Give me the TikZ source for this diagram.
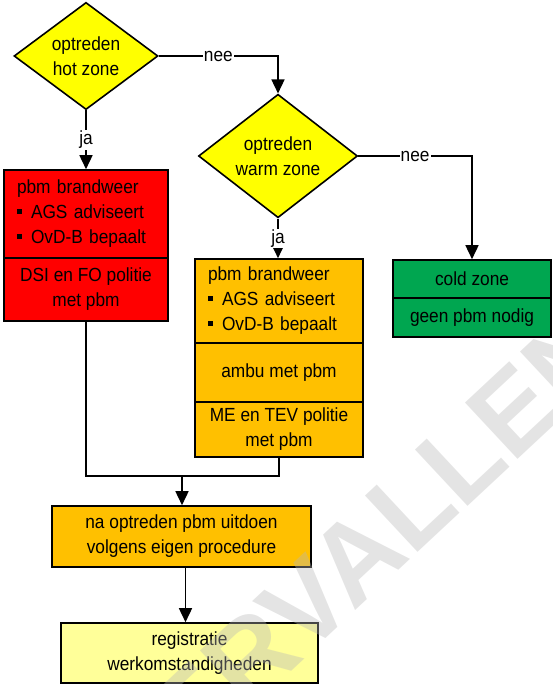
\documentclass[tikz,border=0pt]{standalone}
\usepackage{fontspec}
\setmainfont{Liberation Sans}[FakeStretch=0.91]
\newfontfamily\stampfont{Liberation Sans}
\usetikzlibrary{shapes.geometric,arrows.meta}

\definecolor{zoneyellow}{HTML}{FFFF00}
\definecolor{hotred}{HTML}{FF0000}
\definecolor{warmorange}{HTML}{FFC000}
\definecolor{coldgreen}{HTML}{00A650}
\definecolor{paleyellow}{HTML}{FFFF99}
\definecolor{stampgray}{HTML}{B8B8B8}

\newcommand{\sqbullet}{\rule[5pt]{5pt}{5pt}\hspace{9pt}}

\begin{document}
\begin{tikzpicture}[x=1pt, y=-1pt, line width=1.6pt,
    font=\fontsize{19}{25}\selectfont]
    \tikzset{decision/.style={draw, diamond, fill=zoneyellow, inner sep=0pt, align=center}};
    \tikzset{box/.style={draw, rectangle, inner sep=0pt, align=center}};
    \tikzset{listbox/.style={draw, rectangle, inner ysep=0pt, inner xsep=13pt, align=left}};
    \tikzset{arr/.style={-{Triangle[length=14pt, width=13pt]}}};
    \tikzset{lbl/.style={fill=white, inner sep=1pt}};

    \useasboundingbox (0, 0) rectangle (553, 684);

    % Decisions
    \node [decision, minimum width=144pt, minimum height=105pt] (hot) at (86, 56) {optreden\\hot zone};
    \node [decision, minimum width=159pt, minimum height=115pt] (warm) at (278, 156) {optreden\\warm zone};

    % Hot zone
    \node [listbox, fill=hotred, text width=138pt, minimum height=88pt] (hotppe) at (86, 214)
        {pbm brandweer\\\sqbullet AGS adviseert\\\sqbullet OvD-B bepaalt};
    \node [box, fill=hotred, minimum width=164pt, minimum height=63pt] (hotpol) at (86, 289.5)
        {DSI en FO politie\\met pbm};

    % Warm zone
    \node [listbox, fill=warmorange, text width=142pt, minimum height=84pt] (warmppe) at (279, 301)
        {pbm brandweer\\\sqbullet AGS adviseert\\\sqbullet OvD-B bepaalt};
    \node [box, fill=warmorange, minimum width=168pt, minimum height=59pt] (warmambu) at (279, 372.5)
        {ambu met pbm};
    \node [box, fill=warmorange, minimum width=168pt, minimum height=55pt] (warmpol) at (279, 429.5)
        {ME en TEV politie\\met pbm};

    % Cold zone
    \node [box, fill=coldgreen, minimum width=158pt, minimum height=38pt] (cold) at (472, 279) {cold zone};
    \node [box, fill=coldgreen, minimum width=158pt, minimum height=39pt] (coldppe) at (472, 317.5) {geen pbm nodig};

    % Afterwards
    \node [box, fill=warmorange, minimum width=259pt, minimum height=61pt] (after) at (181.5, 536.5)
        {na optreden pbm uitdoen\\volgens eigen procedure};
    \node [box, fill=paleyellow, minimum width=257pt, minimum height=60pt] (reg) at (189.5, 653)
        {registratie\\werkomstandigheden};

    % Edges
    \draw [arr] (hot.east) -- node [lbl] {nee} (hot.east -| warm.north) -- (warm.north);
    \draw [arr] (hot.south) -- node [lbl] {ja} (hot.south |- hotppe.north);
    \draw [arr] (warm.east) -- node [lbl] {nee} (warm.east -| cold.north) -- (cold.north);
    \draw [arr] (warm.south) -- node [lbl] {ja} (warm.south |- warmppe.north);

    \coordinate (merge) at (182, 476);
    \draw (hotpol.south) |- (merge) -| (warmpol.south);
    \draw [arr] (merge) -- (merge |- after.north);
    \draw [arr] ([xshift=4pt]after.south) -- ([xshift=4pt]after.south |- reg.north);

    % Watermark
    \begin{scope}
        \clip (0, 0) rectangle (553, 684);
        \node [rotate=43, text=stampgray, opacity=0.38, font=\stampfont\bfseries\fontsize{112}{112}\selectfont] (stamp) at (356, 558) {VERVALLEN};
    \end{scope}
\end{tikzpicture}
\end{document}
